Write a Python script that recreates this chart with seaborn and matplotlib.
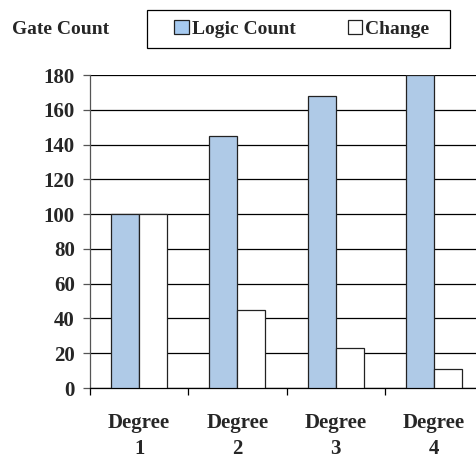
import matplotlib
matplotlib.use("Agg")
import matplotlib.pyplot as plt
import seaborn as sns
import pandas as pd
from matplotlib.patches import Patch, Rectangle

categories = ["Degree\n1", "Degree\n2", "Degree\n3", "Degree\n4"]
logic_count = [100, 145, 168, 180]
change = [100, 45, 23, 11]
series_names = ["Logic Count", "Change"]
y_ticks = [0, 20, 40, 60, 80, 100, 120, 140, 160, 180]

df = pd.DataFrame({
    "cat": categories * 2,
    "val": logic_count + change,
    "series": [series_names[0]] * 4 + [series_names[1]] * 4,
})

sns.set_style("white")
plt.rcParams["font.family"] = ["Liberation Serif", "DejaVu Serif"]
plt.rcParams["font.weight"] = "bold"
plt.rcParams["xtick.bottom"] = True
plt.rcParams["ytick.left"] = True

fig = plt.figure(figsize=(4.76, 4.59), dpi=100)
W, H = 476, 459
ax = fig.add_axes([90 / W, (H - 388) / H, 393 / W, 313 / H])

colors = {"Logic Count": "#A6CAF0", "Change": "#FFFFFF"}
sns.barplot(data=df, x="cat", y="val", hue="series", palette=colors,
            width=0.57, gap=0, edgecolor="#222222", linewidth=0.9,
            legend=False, ax=ax, zorder=3)

ax.set_xlim(-0.5, 3.5)
ax.set_ylim(0, 180)
ax.set_yticks(y_ticks)
ax.set_yticklabels([str(t) for t in y_ticks], fontsize=15, fontweight="bold")
ax.yaxis.grid(True, color="black", linewidth=0.9, zorder=0)
ax.set_axisbelow(True)

ax.set_xticks([0, 1, 2, 3])
ax.set_xticklabels(categories, fontsize=15, fontweight="bold", linespacing=1.42)
ax.tick_params(axis="x", which="major", length=0, pad=18)
ax.set_xticks([-0.5, 0.5, 1.5, 2.5], minor=True)
ax.tick_params(axis="x", which="minor", bottom=True, length=5, width=0.9,
               color="black", direction="out")
ax.tick_params(axis="y", left=True, length=5, width=0.9, color="#555555",
               direction="out", pad=6)

for s in ["top", "right"]:
    ax.spines[s].set_visible(False)
ax.spines["left"].set_color("#555555")
ax.spines["left"].set_linewidth(0.9)
ax.spines["bottom"].set_color("black")
ax.spines["bottom"].set_linewidth(0.9)
ax.set_xlabel("")
ax.set_ylabel("")

fig.text(12 / W, 1 - 29 / H, "Gate Count", fontsize=14, fontweight="bold",
         va="center", ha="left")

# legend box
fig.add_artist(Rectangle((147 / W, 1 - 48 / H), 303 / W, 38 / H,
                         transform=fig.transFigure, fill=False,
                         edgecolor="black", linewidth=0.9))
handles = [Patch(facecolor=colors[n], edgecolor="#222222", linewidth=0.9, label=n)
           for n in series_names]
leg = fig.legend(handles=handles, loc="center left",
                 bbox_to_anchor=(174 / W, 1 - 29 / H),
                 ncol=2, frameon=False,
                 prop={"family": "Liberation Serif", "weight": "bold", "size": 14},
                 handlelength=0.75, handleheight=0.75, handletextpad=0.15,
                 columnspacing=2.7, borderpad=0, borderaxespad=0)

fig.savefig("out.png", dpi=100)
